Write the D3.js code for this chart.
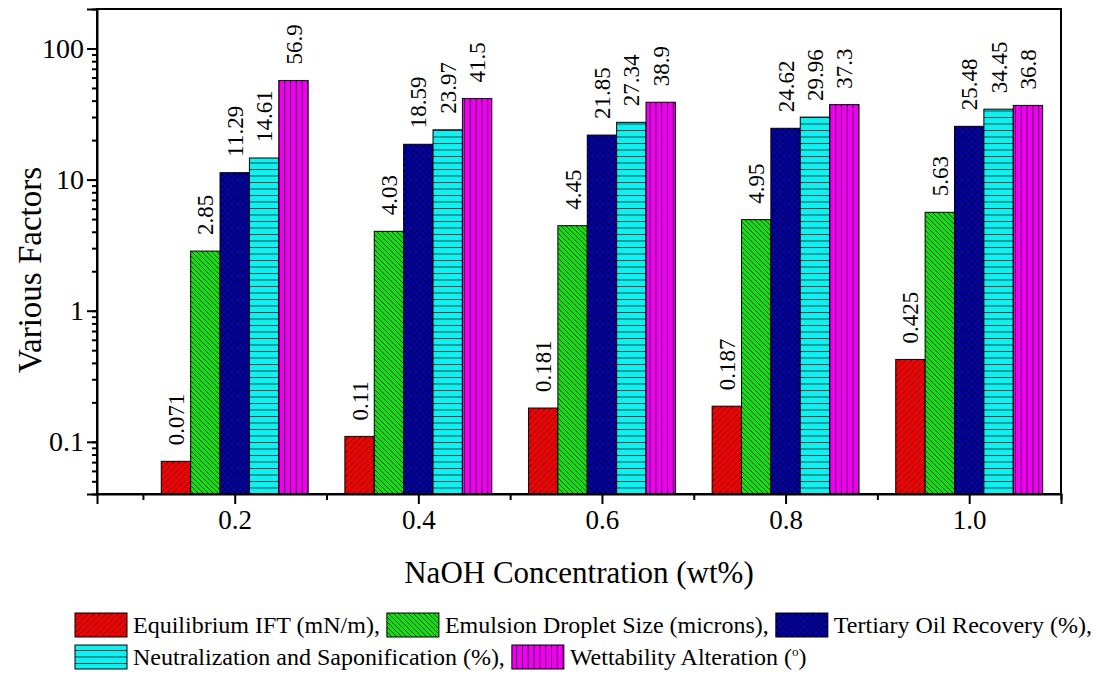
<!DOCTYPE html>
<html>
<head>
<meta charset="utf-8" />
<title>NaOH factors</title>
<script src="https://cdn.jsdelivr.net/npm/d3@7"></script>
<style>
    body { margin: 0; background: #fff; }
</style>
</head>
<body>
<script>
    // data
    var concentrations = [0.2, 0.4, 0.6, 0.8, 1.0]
    var seriesNames = [
        "Equilibrium IFT (mN/m),",
        "Emulsion Droplet Size (microns),",
        "Tertiary Oil Recovery (%),",
        "Neutralization and Saponification (%),",
        "Wettability Alteration ("
    ]
    var ift = [0.071, 0.11, 0.181, 0.187, 0.425]
    var droplet = [2.85, 4.03, 4.45, 4.95, 5.63]
    var recovery = [11.29, 18.59, 21.85, 24.62, 25.48]
    var saponification = [14.61, 23.97, 27.34, 29.96, 34.45]
    var wettability = [56.9, 41.5, 38.9, 37.3, 36.8]
    var labels = [
        ["0.071", "0.11", "0.181", "0.187", "0.425"],
        ["2.85", "4.03", "4.45", "4.95", "5.63"],
        ["11.29", "18.59", "21.85", "24.62", "25.48"],
        ["14.61", "23.97", "27.34", "29.96", "34.45"],
        ["56.9", "41.5", "38.9", "37.3", "36.8"]
    ]
    var series = [ift, droplet, recovery, saponification, wettability]

    var FONT = "'Liberation Serif', 'Times New Roman', 'DejaVu Serif', serif"
    var config = {
        WIDTH: 1100,
        HEIGHT: 682,
        plot: { LEFT: 97, RIGHT: 1061, TOP: 9, BOTTOM: 494 },
        BAR_W: 0.032,
        colors: ["#f00000", "#10e010", "#0000b4", "#10f0f0", "#f000f0"],
        hatch: ["#4a0000", "#003000", "#000028", "#003a3a", "#3a003a"]
    }

    var svg = d3.select("body").append("svg")
        .attr("width", config.WIDTH)
        .attr("height", config.HEIGHT)
        .style("font-family", FONT)

    var x = d3.scaleLinear().domain([0.05, 1.1]).range([config.plot.LEFT, config.plot.RIGHT])
    var y = d3.scaleLog().domain([0.04, 200]).range([config.plot.BOTTOM, config.plot.TOP])

    // hatch patterns
    var defs = svg.append("defs")
    function makePattern(id, i, size, paths) {
        var p = defs.append("pattern").attr("id", id)
            .attr("patternUnits", "userSpaceOnUse")
            .attr("width", size).attr("height", size)
        p.append("rect").attr("width", size).attr("height", size).attr("fill", config.colors[i])
        paths.forEach(function (d) {
            p.append("path").attr("d", d).attr("stroke", config.hatch[i])
                .attr("stroke-width", 0.9).attr("fill", "none")
        })
    }
    makePattern("pat0", 0, 6, ["M-1,1 L1,-1 M0,6 L6,0 M5,7 L7,5"])
    makePattern("pat1", 1, 5, ["M-1,4 L1,6 M0,0 L5,5 M4,-1 L6,1"])
    makePattern("pat2", 2, 6, ["M-1,1 L1,-1 M0,6 L6,0 M5,7 L7,5", "M-1,5 L1,7 M0,0 L6,6 M5,-1 L7,1"])
    makePattern("pat3", 3, 6.5, ["M0,0.5 L6.5,0.5"])
    makePattern("pat4", 4, 5.8, ["M0.5,0 L0.5,5.8"])

    // bars
    series.forEach(function (vals, i) {
        var off = (i - 2) * config.BAR_W
        svg.append("g").selectAll("rect").data(vals).enter().append("rect")
            .attr("x", (d, j) => x(concentrations[j] + off - config.BAR_W / 2))
            .attr("width", x(config.BAR_W) - x(0))
            .attr("y", d => y(d))
            .attr("height", d => y.range()[0] - y(d))
            .attr("fill", "url(#pat" + i + ")")
            .attr("stroke", "#000").attr("stroke-width", 1)
        svg.append("g").selectAll("text").data(vals).enter().append("text")
            .attr("transform", (d, j) => "translate(" + x(concentrations[j] + off) + "," + (y(d) - 16) + ") rotate(-90)")
            .attr("dy", "0.35em")
            .style("font-family", FONT)
            .style("font-size", "23px")
            .text((d, j) => labels[i][j])
    })

    // frame
    svg.append("rect")
        .attr("x", config.plot.LEFT).attr("y", config.plot.TOP)
        .attr("width", config.plot.RIGHT - config.plot.LEFT)
        .attr("height", config.plot.BOTTOM - config.plot.TOP)
        .attr("fill", "none").attr("stroke", "#000").attr("stroke-width", 2)

    // x axis
    var xMinor = d3.range(1, 12).map(d => d / 10).filter(d => Math.round(d * 10) % 2 == 1)
    svg.append("g").attr("transform", "translate(0," + config.plot.BOTTOM + ")")
        .call(d3.axisBottom(x).tickValues(xMinor).tickSize(6).tickFormat(""))
        .call(g => g.select(".domain").remove())
        .selectAll("line").attr("stroke-width", 2)
    var xAxis = svg.append("g").attr("transform", "translate(0," + config.plot.BOTTOM + ")")
        .call(d3.axisBottom(x).tickValues(concentrations).tickSize(10).tickPadding(6).tickFormat(d3.format(".1f")))
    xAxis.select(".domain").attr("stroke-width", 2)
    xAxis.selectAll("line").attr("stroke-width", 2)
    xAxis.selectAll("text").style("font-family", FONT).style("font-size", "27px").attr("fill", "#000")

    // y axis
    var majors = y.ticks().filter(d => Math.abs(Math.log10(d) - Math.round(Math.log10(d))) < 1e-9)
    svg.append("g").attr("transform", "translate(" + config.plot.LEFT + ",0)")
        .call(d3.axisLeft(y).tickValues(y.ticks()).tickSize(5).tickFormat(""))
        .call(g => g.select(".domain").remove())
        .selectAll("line").attr("stroke-width", 2)
    var yAxis = svg.append("g").attr("transform", "translate(" + config.plot.LEFT + ",0)")
        .call(d3.axisLeft(y).tickValues(majors).tickSize(10).tickPadding(3).tickFormat(d3.format("~g")))
    yAxis.select(".domain").attr("stroke-width", 2)
    yAxis.selectAll("line").attr("stroke-width", 2)
    yAxis.selectAll("text").style("font-family", FONT).style("font-size", "28px").attr("fill", "#000")

    // titles
    svg.append("text")
        .attr("x", (config.plot.LEFT + config.plot.RIGHT) / 2).attr("y", 583)
        .attr("text-anchor", "middle")
        .style("font-family", FONT).style("font-size", "31px")
        .text("NaOH Concentration (wt%)")
    svg.append("text")
        .attr("transform", "translate(41,270) rotate(-90)")
        .attr("text-anchor", "middle")
        .style("font-family", FONT).style("font-size", "33px")
        .text("Various Factors")

    // legend
    var rows = [[0, 1, 2], [3, 4]]
    rows.forEach(function (row, r) {
        var lx = 75
        var ly = 613 + r * 32
        row.forEach(function (i) {
            svg.append("rect").attr("x", lx).attr("y", ly).attr("width", 52).attr("height", 24)
                .attr("fill", "url(#pat" + i + ")").attr("stroke", "#000").attr("stroke-width", 1)
            var t = svg.append("text").attr("x", lx + 58).attr("y", ly + 20)
                .style("font-family", FONT).style("font-size", "24px").text(seriesNames[i])
            if (i == 4) {
                t.append("tspan").attr("dy", -9).style("font-size", "13px").text("o")
                t.append("tspan").attr("dy", 9).text(")")
            }
            lx += 58 + t.node().getComputedTextLength() + 7
        })
    })
</script>
</body>
</html>
